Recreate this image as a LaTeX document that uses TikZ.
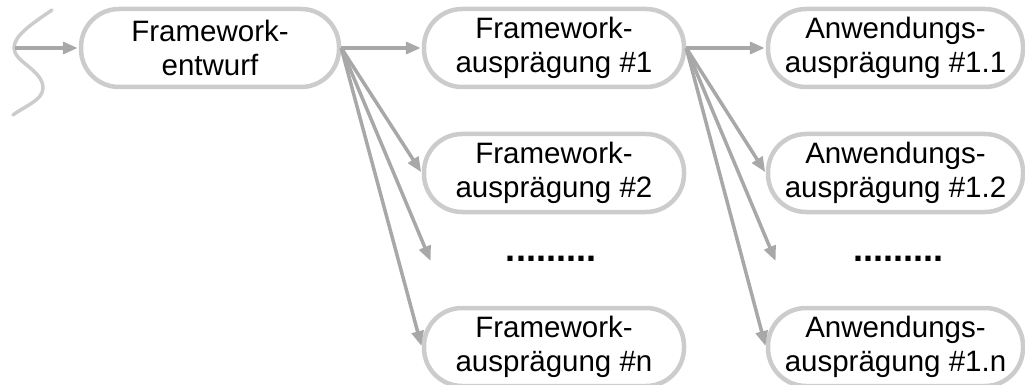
\documentclass[tikz,border=0pt]{standalone}
\usepackage{fontspec}
\setmainfont{Liberation Sans}
\usetikzlibrary{arrows.meta}
\definecolor{boxline}{RGB}{204,204,204}
\definecolor{arrowline}{RGB}{168,168,168}
\tikzset{
  stage/.style={draw=boxline, line width=4.5pt, rounded corners=38pt,
    minimum height=78pt, inner sep=0pt, align=center,
    font=\fontsize{29.5}{34}\selectfont},
  flow/.style={draw=arrowline, line width=3.5pt,
    -{Triangle[length=15pt,width=12pt]}, shorten >=1pt},
  ellipsis/.style={font=\fontsize{36}{40}\selectfont\bfseries, inner sep=0pt}
}
\begin{document}
\begin{tikzpicture}[x=1pt,y=-1pt]
\useasboundingbox (0,0) rectangle (1025,385);

% incoming edge (cut)
\draw[draw=boxline, line width=3.5pt, line cap=round]
  (52,10) .. controls (30,25) and (14,36) .. (14,48)
          .. controls (14,62) and (43,70) .. (43,88)
          .. controls (43,100) and (25,106) .. (13,115);
\coordinate (in) at (15,48);

% design stage
\node[stage, minimum width=258pt] (fw) at (210,48) {Framework-\\entwurf};

% framework instances
\node[stage, minimum width=260pt] (f1) at (554,48) {Framework-\\ausprägung \#1};
\node[stage, minimum width=260pt] (f2) at (554,173) {Framework-\\ausprägung \#2};
\node[ellipsis] (fd) at (551,259) {.........};
\coordinate (fe) at (431,262);
\node[stage, minimum width=260pt] (fn) at (554,347) {Framework-\\ausprägung \#n};

% application instances
\node[stage, minimum width=255pt] (a1) at (895.5,48) {Anwendungs-\\ausprägung \#1.1};
\node[stage, minimum width=255pt] (a2) at (895.5,173) {Anwendungs-\\ausprägung \#1.2};
\node[ellipsis] (ad) at (898,259) {.........};
\coordinate (ae) at (776,262);
\node[stage, minimum width=255pt] (an) at (895.5,347) {Anwendungs-\\ausprägung \#1.n};

% connectors
\draw[flow] (in) -- (fw.west);
\draw[flow] (fw.east) -- (f1.west);
\draw[flow] (fw.east) -- (f2.west);
\draw[flow] (fw.east) -- (fe);
\draw[flow] (fw.east) -- (fn.west);
\draw[flow] (f1.east) -- (a1.west);
\draw[flow] (f1.east) -- (a2.west);
\draw[flow] (f1.east) -- (ae);
\draw[flow] (f1.east) -- (an.west);
\end{tikzpicture}
\end{document}
